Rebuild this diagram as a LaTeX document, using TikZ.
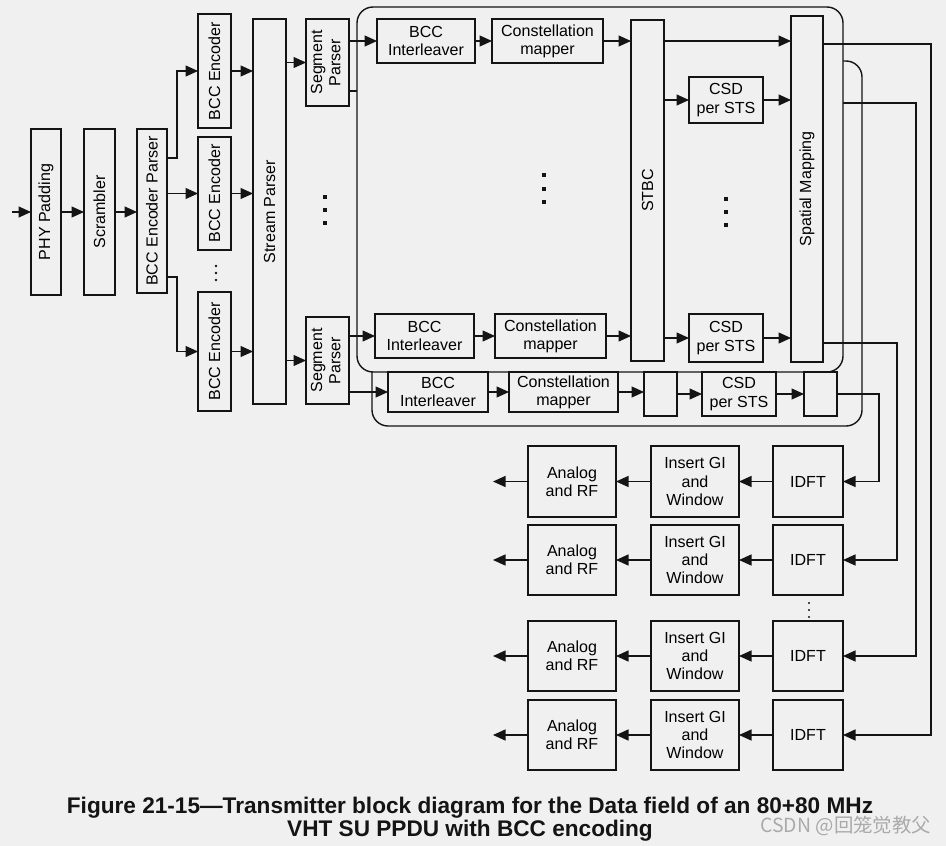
\documentclass[tikz,border=0pt]{standalone}
\usepackage{fontspec}
\setmainfont{Liberation Sans}
\newfontfamily\cjkfont{Noto Sans CJK SC}
\usepackage{graphicx}
\usetikzlibrary{arrows.meta}
\definecolor{bg}{RGB}{240,240,240}
\definecolor{ink}{RGB}{20,20,20}
\definecolor{wmgray}{RGB}{170,170,170}
\tikzset{
  blk/.style={draw=ink, fill=bg, line width=1.3bp, inner sep=0pt, outer sep=0pt, align=center,
    font=\fontsize{16.1}{18.3}\selectfont},
  conn/.style={draw=ink, line width=1.3bp},
  arr/.style={conn, -{Triangle[length=12.5bp,width=11bp]}},
  grp/.style={draw=ink, fill=bg, line width=1.4bp, rounded corners=16bp},
}
\newcommand{\blk}[6]{\node[blk, minimum width={(#4-#2)*1bp}, minimum height={(#5-#3)*1bp}] (#1) at ({(#2+#4)/2},{(#3+#5)/2}) {#6};}
\newcommand{\rt}[1]{\rotatebox{90}{#1}}
\newcommand{\rtt}[2]{\rotatebox{90}{\begin{tabular}{@{}c@{}}#1\\#2\end{tabular}}}
\begin{document}
\begin{tikzpicture}[x=1bp,y=-1bp]
\fill[bg] (0,0) rectangle (946,846);
\useasboundingbox (0,0) rectangle (946,846);

% ---- output rows
\foreach \r/\ya/\yb in {1/446/517, 2/525/595, 3/621/691, 4/700/770}{
  \blk{rf\r}{528}{\ya}{616}{\yb}{Analog\\and RF}
  \blk{gi\r}{651}{\ya}{739}{\yb}{Insert GI\\and\\Window}
  \blk{dft\r}{773}{\ya}{843}{\yb}{IDFT}
  \draw[arr] (dft\r.west) -- (gi\r.east);
  \draw[arr] (gi\r.west) -- (rf\r.east);
  \draw[arr] (rf\r.west) -- ++(-35,0);
}
\foreach \y in {603,610,617} \fill[ink] (809,\y) circle (1.2);

% ---- rear group box and its hidden output
\draw[grp] (372,61) rectangle (862,426);
\coordinate (l2s) at (843,103);
\coordinate (l2c) at (916,103);
\draw[arr] (l2s) -- (l2c) |- (dft3.east);

% ---- front group box
\draw[grp] (357,7) rectangle (843,372);

% ---- left chain
\blk{pad}{31}{129}{61}{295}{\rt{PHY Padding}}
\blk{scr}{84}{129}{115}{295}{\rt{Scrambler}}
\blk{bep}{137}{129}{167}{293}{\rt{BCC Encoder Parser}}
\blk{enc1}{198}{14}{231}{128}{\rt{BCC Encoder}}
\blk{enc2}{198}{137}{231}{250}{\rt{BCC Encoder}}
\blk{enc3}{198}{292}{231}{411}{\rt{BCC Encoder}}
\blk{sp}{253}{19}{286}{404}{\rt{Stream Parser}}
\blk{seg1}{306}{19}{349}{106}{\rtt{Segment}{Parser}}
\blk{seg2}{306}{317}{349}{404}{\rtt{Segment}{Parser}}

\coordinate (in) at (12,212);
\draw[arr] (in) -- (pad.west);
\draw[arr] (pad.east) -- (scr.west);
\draw[arr] (scr.east) -- (bep.west |- scr.east);
\coordinate (b1) at (177,158);
\coordinate (b3) at (177,277);
\draw[arr] (bep.east |- b1) -- (b1) |- (enc1.west);
\draw[arr] (bep.east |- enc2.west) -- (enc2.west);
\draw[arr] (bep.east |- b3) -- (b3) |- (enc3.west);
\foreach \i in {1,2,3} \draw[arr] (enc\i.east) -- (sp.west |- enc\i.east);
\draw[arr] (sp.east |- seg1.west) -- (seg1.west);
\draw[arr] (sp.east |- seg2.west) -- (seg2.west);
\foreach \y in {197,210,223} \fill[ink] (323,\y-2) rectangle ++(4,4);
\foreach \y in {266,273,280} \fill[ink] (216,\y) circle (1.3);

% ---- inner blocks
\blk{ilv1}{377}{19}{475}{63}{BCC\\Interleaver}
\blk{map1}{492}{19}{603}{63}{Constellation\\mapper}
\blk{ilv2}{375}{314}{474}{358}{BCC\\Interleaver}
\blk{map2}{495}{314}{606}{358}{Constellation\\mapper}
\blk{stbc}{631}{20}{664}{361}{\rt{STBC}}
\blk{csd1}{689}{77}{763}{123}{CSD\\per STS}
\blk{csd2}{689}{314}{763}{362}{CSD\\per STS}
\blk{smap}{791}{16}{823}{362}{\rt{Spatial Mapping}}
\blk{ilv3}{388}{372}{488}{412}{BCC\\Interleaver}
\blk{map3}{509}{372}{618}{412}{Constellation\\mapper}
\blk{stbc3}{644}{372}{677}{416}{}
\blk{csd3}{702}{372}{776}{416}{CSD\\per STS}
\blk{smap3}{804}{372}{837}{416}{}

\coordinate (s1b) at (357,91);
\draw[arr] (seg1.east |- ilv1.west) -- (ilv1.west);
\draw[conn] (seg1.east |- s1b) -- (s1b);
\draw[arr] (seg2.east |- ilv2.west) -- (ilv2.west);
\draw[arr] (seg2.east |- ilv3.west) -- (ilv3.west);

\draw[arr] (ilv1.east) -- (map1.west);
\draw[arr] (map1.east) -- (stbc.west |- map1.east);
\draw[arr] (stbc.east |- map1.east) -- (smap.west |- map1.east);
\draw[arr] (stbc.east |- csd1.west) -- (csd1.west);
\draw[arr] (csd1.east) -- (smap.west |- csd1.east);

\draw[arr] (ilv2.east) -- (map2.west);
\draw[arr] (map2.east) -- (stbc.west |- map2.east);
\draw[arr] (stbc.east |- csd2.west) -- (csd2.west);
\draw[arr] (csd2.east) -- (smap.west |- csd2.east);

\draw[arr] (ilv3.east) -- (map3.west);
\draw[arr] (map3.east) -- (stbc3.west |- map3.east);
\draw[arr] (stbc3.east |- csd3.west) -- (csd3.west);
\draw[arr] (csd3.east) -- (smap3.west |- csd3.east);

\foreach \y in {175,189,202} \fill[ink] (542,\y-2) rectangle ++(4,4);
\foreach \y in {199,212,225} \fill[ink] (724,\y-2) rectangle ++(4,4);

% ---- outputs to IDFTs
\coordinate (c1) at (931,44);
\coordinate (c3) at (897,343);
\coordinate (c4) at (879,394);
\draw[arr] (smap.east |- c1) -- (c1) |- (dft4.east);
\draw[arr] (smap.east |- c3) -- (c3) |- (dft2.east);
\draw[arr] (smap3.east |- c4) -- (c4) |- (dft1.east);

% ---- caption
\node[font=\bfseries\fontsize{22.7}{23.5}\selectfont, align=center, text=ink] (cap) at (470,819)
  {Figure 21-15—Transmitter block diagram for the Data field of an 80+80 MHz\\VHT SU PPDU with BCC encoding};
\node[font=\cjkfont\fontsize{19.5}{22}\selectfont, text=wmgray, anchor=west] (wm) at (757,826) {CSDN @回笼觉教父};
\end{tikzpicture}
\end{document}
